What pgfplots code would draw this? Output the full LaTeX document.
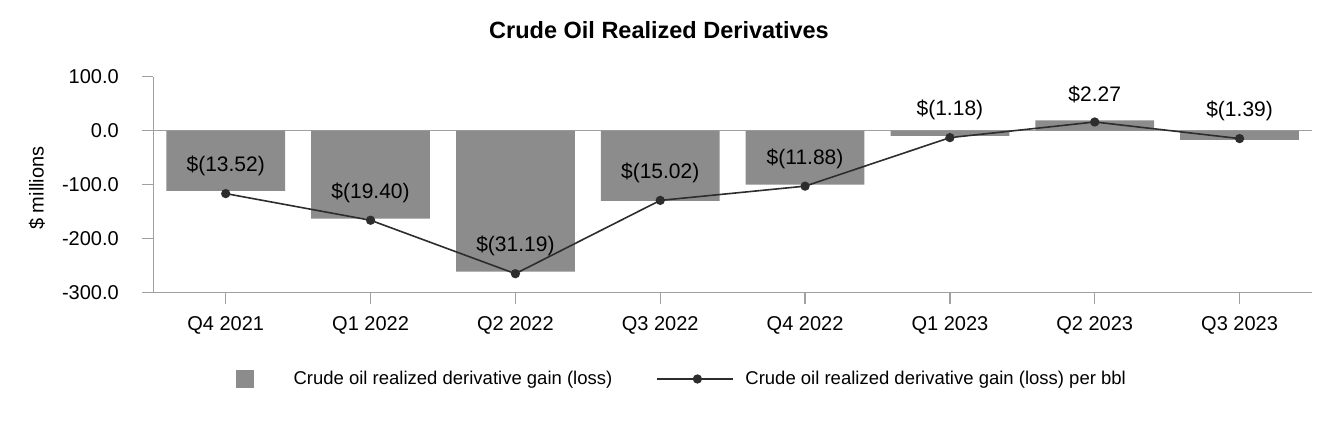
\documentclass[border=0pt]{standalone}
\usepackage{pgfplots}
\pgfplotsset{compat=1.18}
\usepackage{fontspec}
\setmainfont{Liberation Sans}
\definecolor{barc}{RGB}{140,140,140}
\definecolor{axc}{RGB}{160,160,160}
\definecolor{linec}{RGB}{45,45,45}
\pgfplotsset{
  lineleg/.style={legend image code/.code={\draw[mark repeat=2, mark phase=2, ##1] plot coordinates {(0pt,0pt) (40.3pt,0pt) (76pt,0pt)}; \path[draw=none] (0pt,0pt) -- (88.3pt,0pt);}},
  barleg/.style={legend image code/.code={\fill[barc, draw=none] (0pt,-9pt) rectangle (18pt,9pt); \path[draw=none] (0pt,0pt) -- (58pt,0pt);}},
}
\pgfplotstableread{
x y
0 -111.4
1 -163
2 -260.8
3 -130
4 -100
5 -9.4
6 19.3
7 -17
}\bars
\pgfplotstableread{
x y label
0 -13.52 {\$(13.52)}
1 -19.40 {\$(19.40)}
2 -31.19 {\$(31.19)}
3 -15.02 {\$(15.02)}
4 -11.88 {\$(11.88)}
5 -1.18 {\$(1.18)}
6 2.27 {\$2.27}
7 -1.39 {\$(1.39)}
}\perbbl
\begin{document}
\begin{tikzpicture}
\useasboundingbox (0,0) rectangle (1332pt,420pt);
\node[font=\bfseries\fontsize{23.5}{28}\selectfont, anchor=base] at (659pt,381.7pt) {Crude Oil Realized Derivatives};
\node[font=\fontsize{20}{24}\selectfont, rotate=90, anchor=center] at (37pt,232pt) {\$ millions};
\begin{axis}[
  at={(153.3pt,127.3pt)}, anchor=south west,
  scale only axis, width=1158.7pt, height=216pt,
  xmin=-0.5, xmax=7.5, ymin=-300, ymax=100,
  axis x line=bottom, axis y line=left,
  axis line style={axc, line width=1.3pt, -},
  xtick={0,...,7},
  xticklabels={Q4 2021,Q1 2022,Q2 2022,Q3 2022,Q4 2022,Q1 2023,Q2 2023,Q3 2023},
  ytick={-300,-200,-100,0,100},
  tick align=outside, major tick length=11pt,
  tick style={axc, line width=1.3pt},
  tick label style={font=\fontsize{20}{24}\selectfont, text=black},
  x tick label style={yshift=-9pt},
  /pgf/number format/assume math mode=true,
  y tick label style={xshift=-20pt, /pgf/number format/fixed, /pgf/number format/fixed zerofill, /pgf/number format/precision=1},
  extra y ticks={0}, extra y tick labels={},
  extra y tick style={grid=major, major grid style={axc, line width=1.3pt}},
]
\addplot[ybar, bar width=0.82, fill=barc, draw=none] table[x=x, y=y] {\bars};
\end{axis}
\begin{axis}[
  at={(153.3pt,127.3pt)}, anchor=south west,
  scale only axis, width=1158.7pt, height=216pt,
  xmin=-0.5, xmax=7.5, ymin=-35.38, ymax=12.26,
  hide axis,
  legend columns=2,
  legend cell align=left,
  legend style={draw=none, fill=none, inner sep=0pt, outer sep=0pt,
    at={(rel axis cs:0.071,-0.3995)}, anchor=west,
    nodes={inner sep=0pt},
    font=\fontsize{18.5}{22}\selectfont,
    /tikz/every even column/.append style={column sep=44pt}},
]
\addlegendimage{barleg}
\addlegendentry{Crude oil realized derivative gain (loss)}
\addplot[linec, line width=1.6pt, mark=*, mark size=3.8pt, mark options={fill=linec, draw=linec},
  nodes near coords, point meta=explicit symbolic,
  nodes near coords style={anchor=center, yshift=27.5pt, font=\fontsize{21}{25}\selectfont, text=black},
  lineleg]
  table[x=x, y=y, meta=label] {\perbbl};
\addlegendentry{Crude oil realized derivative gain (loss) per bbl}
\end{axis}
\end{tikzpicture}
\end{document}
